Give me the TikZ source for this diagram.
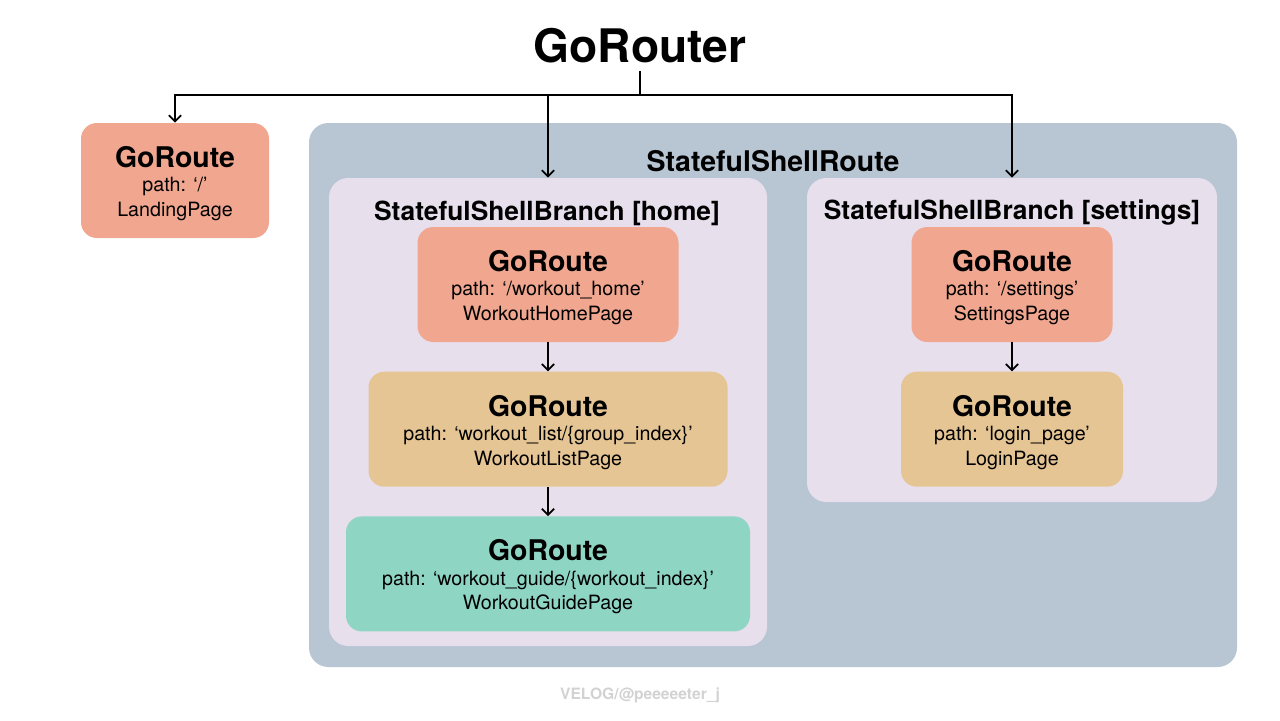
\documentclass[tikz,border=0pt]{standalone}
\usepackage{fontspec}
\setmainfont{TeX Gyre Heros}
\usetikzlibrary{positioning}
\usetikzlibrary{arrows.meta}
\definecolor{salmon}{RGB}{240, 166, 143}
\definecolor{tan}{RGB}{229, 197, 148}
\definecolor{teal}{RGB}{143, 213, 196}
\definecolor{shellgray}{RGB}{184, 197, 211}
\definecolor{branchlilac}{RGB}{231, 223, 236}
\definecolor{footgray}{RGB}{210, 210, 210}
\newcommand{\routebox}[2]{{\bfseries\fontsize{16.2}{18}\selectfont\rule{0pt}{15.5pt}GoRoute}\\ path: #1\\ #2}
\tikzset{
  route/.style   = {shape=rectangle, rounded corners=9pt, align=center,
                    inner sep=0pt, minimum height=2.3cm,
                    font=\fontsize{11.2}{14}\selectfont},
  start/.style   = {route, fill=salmon},
  middle/.style  = {route, fill=tan},
  last/.style    = {route, fill=teal},
  container/.style = {shape=rectangle, rounded corners=11pt, inner sep=0pt},
  heading/.style = {font=\bfseries\fontsize{15}{17}\selectfont},
  link/.style    = {-{Straight Barb[length=3.5pt,width=7pt]}, line width=1pt}
}

\begin{document}
\begin{tikzpicture}
  \useasboundingbox (0,0) rectangle (25.6,-14.4);
  \node [font=\bfseries\fontsize{26.3}{30}\selectfont, inner sep=4pt] (title) at (12.8,-0.92) {GoRouter};
  \coordinate (hub) at (12.8,-1.9);
  \node [start, minimum width=3.76cm] (landing) at (3.5,-3.61) {\routebox{‘/’}{LandingPage}};
  \node [container, fill=shellgray, minimum width=18.56cm, minimum height=10.88cm] (shell) at (15.46,-7.9) {};
  \node [heading, font=\bfseries\fontsize{16.2}{18}\selectfont] (shelltitle) at (15.46,-3.22) {StatefulShellRoute};
  \node [container, fill=branchlilac, minimum width=8.76cm, minimum height=9.36cm] (home) at (10.96,-8.24) {};
  \node [heading] (hometitle) at (10.94,-4.26) {StatefulShellBranch [home]};
  \node [container, fill=branchlilac, minimum width=8.2cm, minimum height=6.48cm] (settings) at (20.24,-6.8) {};
  \node [heading] (settingstitle) at (20.24,-4.26) {StatefulShellBranch [settings]};
  \node [start, minimum width=5.22cm] (hr) at (10.96,-5.69) {\routebox{‘/workout\_home’}{WorkoutHomePage}};
  \node [middle, minimum width=7.18cm] (lr) [below=0.58cm of hr] {\routebox{‘workout\_list/\{group\_index\}’}{WorkoutListPage}};
  \node [last, minimum width=8.08cm] (gr) [below=0.58cm of lr] {\routebox{‘workout\_guide/\{workout\_index\}’}{WorkoutGuidePage}};
  \node [start, minimum width=4.02cm] (sr) at (20.24,-5.69) {\routebox{‘/settings’}{SettingsPage}};
  \node [middle, minimum width=4.44cm] (login) [below=0.58cm of sr] {\routebox{‘login\_page’}{LoginPage}};
  \node [font=\bfseries\fontsize{8.9}{10}\selectfont, text=footgray] (footer) at (12.8,-13.9) {VELOG/@peeeeeter\_j};
  \draw [link] (title.south) -- (hub) -| (landing.north);
  \draw [link] (hub) -| (home.north);
  \draw [link] (hub) -| (settings.north);
  \path [link] (hr) edge (lr);
  \path [link] (lr) edge (gr);
  \path [link] (sr) edge (login);
\end{tikzpicture}
\end{document}
